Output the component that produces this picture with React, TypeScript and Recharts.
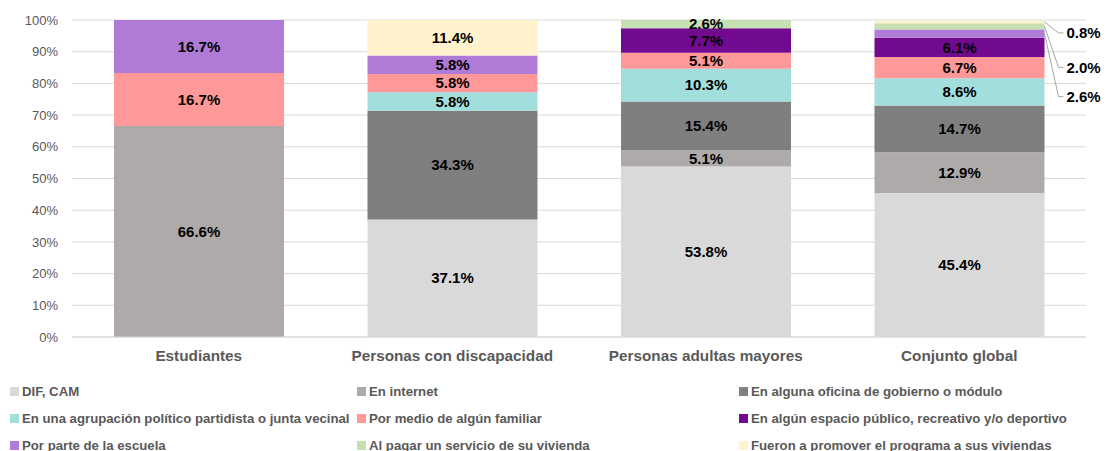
import React from 'react';
import { BarChart, Bar, XAxis, YAxis, CartesianGrid, LabelList } from 'recharts';

const categories = ['Estudiantes', 'Personas con discapacidad', 'Personas adultas mayores', 'Conjunto global'];
const difCam = [0, 37.1, 53.8, 45.4];
const enInternet = [66.6, 0, 5.1, 12.9];
const oficina = [0, 34.3, 15.4, 14.7];
const agrupacion = [0, 5.8, 10.3, 8.6];
const familiar = [16.7, 5.8, 5.1, 6.7];
const espacio = [0, 0, 7.7, 6.1];
const escuela = [16.7, 5.8, 0, 2.6];
const pagar = [0, 0, 2.6, 2.0];
const fueron = [0, 11.4, 0, 0.8];
const yTicks = [0, 10, 20, 30, 40, 50, 60, 70, 80, 90, 100];

const series = [
  { key: 'dif', name: 'DIF, CAM', values: difCam, color: '#D9D9D9' },
  { key: 'internet', name: 'En internet', values: enInternet, color: '#AEAAAA' },
  { key: 'oficina', name: 'En alguna oficina de gobierno o módulo', values: oficina, color: '#7F7F7F' },
  { key: 'agrupacion', name: 'En una agrupación político partidista o junta vecinal', values: agrupacion, color: '#A2DEDB' },
  { key: 'familiar', name: 'Por medio de algún familiar', values: familiar, color: '#FF9898' },
  { key: 'espacio', name: 'En algún espacio público, recreativo y/o deportivo', values: espacio, color: '#720A8F' },
  { key: 'escuela', name: 'Por parte de la escuela', values: escuela, color: '#B07BD7' },
  { key: 'pagar', name: 'Al pagar un servicio de su vivienda', values: pagar, color: '#C6E0B4' },
  { key: 'fueron', name: 'Fueron a promover el programa a sus viviendas', values: fueron, color: '#FFF2CC' },
];

// callout label offsets (style) for the small segments of the last category
const calloutCategory = 'Conjunto global';
const callout: Record<string, number> = { escuela: 63, pagar: 41, fueron: 11 };

const data = categories.map((c, i) => {
  const row: Record<string, any> = { category: c };
  series.forEach((s) => {
    const v = s.values[i];
    row[s.key] = v;
    const isOut = c === calloutCategory && callout[s.key] !== undefined;
    row[`${s.key}_in`] = isOut ? null : v;
    row[`${s.key}_out`] = isOut ? v : null;
  });
  return row;
});

const FONT = '"Liberation Sans", Arial, sans-serif';

const InnerLabel = (props: any) => {
  const { x, y, width, height, value } = props;
  if (!value) return null;
  const cx = Number(x) + Number(width) / 2;
  const cy = Number(y) + Number(height) / 2;
  return (
    <text x={cx} y={cy} dy="0.35em" textAnchor="middle" fontFamily={FONT} fontWeight="bold" fontSize={15} fill="#000">
      {`${Number(value).toFixed(1)}%`}
    </text>
  );
};

const makeOuter = (key: string) => (props: any) => {
  const { x, y, width, height, value } = props;
  if (!value) return null;
  const right = Number(x) + Number(width);
  const cy = Number(y) + Number(height) / 2;
  const ly = cy + (callout[key] || 0);
  return (
    <g>
      <path d={`M${right},${cy} L${right + 14},${ly} L${right + 19},${ly}`} stroke="#A6A6A6" fill="none" strokeWidth={1} />
      <text x={right + 22} y={ly} dy="0.35em" textAnchor="start" fontFamily={FONT} fontWeight="bold" fontSize={15} fill="#000">
        {`${Number(value).toFixed(1)}%`}
      </text>
    </g>
  );
};

const legendCols = [10, 357, 739];
const legendRows = [391, 418, 445];
const legendOrder = ['dif', 'internet', 'oficina', 'agrupacion', 'familiar', 'espacio', 'escuela', 'pagar', 'fueron'];

export default function App() {
  return (
    <div style={{ position: 'absolute', left: 0, top: 0, width: 1107, height: 451, background: '#fff' }}>
      <BarChart width={1107} height={370} data={data} margin={{ top: 20, right: 21, left: 0, bottom: 3 }} barSize={170}>
        <CartesianGrid vertical={false} stroke="#D9D9D9" />
        <YAxis
          type="number"
          domain={[0, 100]}
          ticks={yTicks}
          allowDataOverflow
          width={72}
          tickSize={0}
          tickMargin={14}
          axisLine={false}
          tickFormatter={(v: number) => `${v}%`}
          tick={{ fontFamily: FONT, fontSize: 13, fill: '#595959' }}
        />
        <XAxis
          dataKey="category"
          height={30}
          tickSize={0}
          tickMargin={13}
          axisLine={{ stroke: '#D9D9D9' }}
          tick={{ fontFamily: FONT, fontSize: 15.3, fontWeight: 'bold', fill: '#595959' }}
          interval={0}
        />
        {series.map((s) => (
          <Bar key={s.key} dataKey={s.key} name={s.name} stackId="a" fill={s.color} isAnimationActive={false}>
            <LabelList dataKey={`${s.key}_in`} content={InnerLabel} />
            <LabelList dataKey={`${s.key}_out`} content={makeOuter(s.key)} />
          </Bar>
        ))}
      </BarChart>
      {legendOrder.map((k, i) => {
        const s = series.find((z) => z.key === k)!;
        const col = i % 3;
        const row = Math.floor(i / 3);
        return (
          <div
            key={k}
            style={{
              position: 'absolute',
              left: legendCols[col],
              top: legendRows[row] - 9,
              height: 18,
              display: 'flex',
              alignItems: 'center',
              whiteSpace: 'nowrap',
              fontFamily: FONT,
              fontSize: 13.2,
              fontWeight: 'bold',
              color: '#595959',
            }}
          >
            <span style={{ display: 'inline-block', width: 9, height: 9, background: s.color, marginRight: 3 }} />
            <span>{s.name}</span>
          </div>
        );
      })}
    </div>
  );
}
